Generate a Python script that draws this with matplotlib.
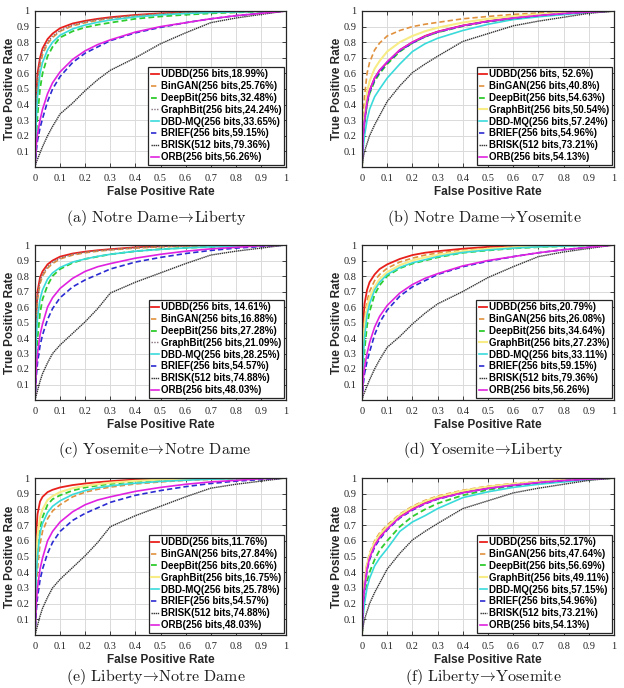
import matplotlib
matplotlib.use("Agg")
import matplotlib.pyplot as plt

plt.rcParams['mathtext.fontset'] = 'cm'

# ---------------- data ----------------
FPR = [0, .005, .01, .02, .03, .05, .07, .1, .15, .2, .25, .3, .4, .5, .6, .7, .8, .9, 1]
METHODS = ['UDBD', 'BinGAN', 'DeepBit', 'GraphBit', 'DBD-MQ', 'BRIEF', 'BRISK', 'ORB']

# hand-crafted descriptors (depend on test set only)
BRIEF_LIB = [0, .10, .17, .25, .31, .42, .50, .58, .67, .73, .77, .81, .86, .895, .925, .95, .97, .985, 1]
BRISK_LIB = [0, .03, .05, .09, .13, .20, .26, .34, .41, .49, .56, .62, .70, .79, .86, .925, .955, .978, 1]
ORB_LIB = [0, .14, .21, .30, .37, .47, .54, .61, .69, .745, .785, .815, .865, .90, .925, .95, .97, .985, 1]

BRIEF_ND = [0, .15, .24, .35, .42, .52, .59, .66, .73, .775, .81, .845, .89, .92, .945, .965, .98, .99, 1]
BRISK_ND = [0, .03, .06, .12, .17, .24, .30, .355, .43, .505, .59, .69, .76, .82, .88, .935, .96, .98, 1]
ORB_ND = [0, .20, .30, .42, .49, .60, .66, .72, .785, .83, .86, .88, .915, .94, .96, .975, .985, .995, 1]

BRIEF_YOS = [0, .20, .29, .41, .48, .56, .61, .67, .745, .795, .835, .865, .905, .933, .953, .97, .983, .993, 1]
BRISK_YOS = [0, .06, .10, .15, .20, .27, .33, .42, .52, .605, .66, .71, .805, .855, .905, .935, .96, .985, 1]
ORB_YOS = [0, .21, .30, .42, .49, .57, .62, .675, .75, .80, .838, .867, .906, .934, .955, .971, .984, .993, 1]

# (a) Notre Dame -> Liberty
A_UDBD = [0, .45, .60, .70, .76, .82, .855, .89, .92, .937, .95, .96, .975, .985, .99, .994, .997, .999, 1]
A_BINGAN = [0, .38, .52, .65, .72, .79, .83, .87, .905, .925, .94, .952, .968, .98, .987, .992, .996, .999, 1]
A_DEEPBIT = [0, .20, .33, .50, .60, .71, .77, .83, .87, .895, .912, .925, .95, .965, .976, .985, .991, .996, 1]
A_GRAPHBIT = [0, .42, .56, .68, .74, .80, .84, .875, .91, .93, .945, .955, .972, .982, .988, .993, .996, .999, 1]
A_DBDMQ = [0, .30, .45, .60, .67, .75, .80, .845, .885, .91, .928, .942, .962, .975, .984, .99, .994, .998, 1]

# (b) Notre Dame -> Yosemite
B_UDBD = [0, .20, .30, .42, .49, .57, .62, .67, .75, .80, .84, .868, .907, .935, .955, .972, .984, .993, 1]
B_BINGAN = [0, .32, .45, .60, .67, .75, .795, .84, .875, .90, .915, .927, .95, .965, .978, .987, .993, .997, 1]
B_DEEPBIT = [0, .18, .28, .40, .47, .55, .60, .66, .74, .795, .835, .863, .903, .932, .953, .97, .983, .993, 1]
B_GRAPHBIT = [0, .25, .35, .48, .55, .63, .68, .74, .80, .84, .87, .893, .926, .95, .966, .979, .989, .995, 1]
B_DBDMQ = [0, .12, .20, .30, .37, .45, .50, .57, .66, .74, .79, .825, .875, .915, .945, .963, .977, .99, 1]

# (c) Yosemite -> Notre Dame
C_UDBD = [0, .55, .70, .79, .83, .875, .90, .925, .945, .957, .966, .973, .985, .992, .996, .998, .999, 1, 1]
C_BINGAN = [0, .50, .65, .75, .80, .85, .88, .91, .935, .95, .96, .968, .98, .988, .993, .996, .998, .999, 1]
C_DEEPBIT = [0, .25, .40, .56, .65, .74, .80, .845, .885, .91, .925, .94, .96, .973, .982, .988, .993, .997, 1]
C_GRAPHBIT = [0, .52, .67, .77, .81, .86, .89, .915, .94, .953, .963, .97, .982, .99, .994, .997, .999, 1, 1]
C_DBDMQ = [0, .40, .53, .65, .71, .78, .82, .855, .89, .91, .927, .94, .96, .972, .981, .988, .993, .997, 1]

# (d) Yosemite -> Liberty
D_UDBD = [0, .50, .62, .71, .76, .81, .845, .875, .91, .935, .95, .96, .976, .988, .993, .996, .998, .999, 1]
D_BINGAN = [0, .40, .52, .64, .70, .77, .81, .85, .89, .915, .935, .948, .966, .978, .987, .993, .996, .999, 1]
D_DEEPBIT = [0, .20, .32, .48, .57, .68, .74, .80, .85, .88, .90, .92, .95, .965, .978, .986, .992, .997, 1]
D_GRAPHBIT = [0, .36, .48, .60, .66, .73, .78, .825, .87, .90, .92, .935, .96, .975, .985, .99, .995, .998, 1]
D_DBDMQ = [0, .28, .40, .55, .62, .71, .76, .81, .855, .885, .905, .925, .952, .968, .98, .988, .993, .997, 1]

# (e) Liberty -> Notre Dame
E_UDBD = [0, .65, .77, .85, .88, .91, .925, .94, .955, .965, .973, .98, .99, .995, .998, .999, 1, 1, 1]
E_BINGAN = [0, .30, .42, .58, .66, .74, .79, .83, .88, .91, .928, .942, .962, .975, .985, .991, .995, .998, 1]
E_DEEPBIT = [0, .40, .54, .68, .75, .83, .865, .89, .92, .94, .952, .962, .977, .986, .992, .996, .998, .999, 1]
E_GRAPHBIT = [0, .50, .63, .75, .80, .86, .885, .91, .935, .95, .96, .97, .982, .99, .994, .997, .999, 1, 1]
E_DBDMQ = [0, .38, .50, .65, .71, .78, .82, .855, .895, .92, .938, .95, .967, .978, .986, .992, .996, .998, 1]

# (f) Liberty -> Yosemite
F_UDBD = [0, .22, .32, .44, .50, .58, .63, .68, .755, .805, .845, .873, .912, .94, .958, .974, .985, .994, 1]
F_BINGAN = [0, .24, .34, .46, .52, .60, .65, .70, .77, .82, .857, .885, .922, .948, .965, .978, .988, .995, 1]
F_DEEPBIT = [0, .15, .24, .34, .40, .48, .54, .60, .69, .755, .80, .838, .89, .925, .95, .967, .98, .992, 1]
F_GRAPHBIT = [0, .23, .33, .45, .51, .59, .64, .69, .765, .815, .852, .88, .918, .945, .962, .976, .987, .995, 1]
F_DBDMQ = [0, .13, .20, .30, .36, .44, .49, .55, .66, .72, .76, .805, .875, .912, .94, .96, .975, .99, 1]

LABELS_A = ['UDBD(256 bits,18.99%)', 'BinGAN(256 bits,25.76%)', 'DeepBit(256 bits,32.48%)',
            'GraphBit(256 bits,24.24%)', 'DBD-MQ(256 bits,33.65%)', 'BRIEF(256 bits,59.15%)',
            'BRISK(512 bits,79.36%)', 'ORB(256 bits,56.26%)']
LABELS_B = ['UDBD(256 bits, 52.6%)', 'BinGAN(256 bits,40.8%)', 'DeepBit(256 bits,54.63%)',
            'GraphBit(256 bits,50.54%)', 'DBD-MQ(256 bits,57.24%)', 'BRIEF(256 bits,54.96%)',
            'BRISK(512 bits,73.21%)', 'ORB(256 bits,54.13%)']
LABELS_C = ['UDBD(256 bits, 14.61%)', 'BinGAN(256 bits,16.88%)', 'DeepBit(256 bits,27.28%)',
            'GraphBit(256 bits,21.09%)', 'DBD-MQ(256 bits,28.25%)', 'BRIEF(256 bits,54.57%)',
            'BRISK(512 bits,74.88%)', 'ORB(256 bits,48.03%)']
LABELS_D = ['UDBD(256 bits,20.79%)', 'BinGAN(256 bits,26.08%)', 'DeepBit(256 bits,34.64%)',
            'GraphBit(256 bits,27.23%)', 'DBD-MQ(256 bits,33.11%)', 'BRIEF(256 bits,59.15%)',
            'BRISK(512 bits,79.36%)', 'ORB(256 bits,56.26%)']
LABELS_E = ['UDBD(256 bits,11.76%)', 'BinGAN(256 bits,27.84%)', 'DeepBit(256 bits,20.66%)',
            'GraphBit(256 bits,16.75%)', 'DBD-MQ(256 bits,25.78%)', 'BRIEF(256 bits,54.57%)',
            'BRISK(512 bits,74.88%)', 'ORB(256 bits,48.03%)']
LABELS_F = ['UDBD(256 bits,52.17%)', 'BinGAN(256 bits,47.64%)', 'DeepBit(256 bits,56.69%)',
            'GraphBit(256 bits,49.11%)', 'DBD-MQ(256 bits,57.15%)', 'BRIEF(256 bits,54.96%)',
            'BRISK(512 bits,73.21%)', 'ORB(256 bits,54.13%)']

ARROW = r'$\!\rightarrow\!$'
CAPTIONS = ['(a) Notre Dame' + ARROW + 'Liberty', '(b) Notre Dame' + ARROW + 'Yosemite',
            '(c) Yosemite' + ARROW + 'Notre Dame', '(d) Yosemite' + ARROW + 'Liberty',
            '(e) Liberty' + ARROW + 'Notre Dame', '(f) Liberty' + ARROW + 'Yosemite']

XTICKS = [0, .1, .2, .3, .4, .5, .6, .7, .8, .9, 1]
XTICKLABELS = ['0', '0.1', '0.2', '0.3', '0.4', '0.5', '0.6', '0.7', '0.8', '0.9', '1']
YTICKS = [.1, .2, .3, .4, .5, .6, .7, .8, .9, 1]
YTICKLABELS = ['0.1', '0.2', '0.3', '0.4', '0.5', '0.6', '0.7', '0.8', '0.9', '1']

# ---------------- styles ----------------
DASH = (0, (3.2, 1.8))
STYLE = {
    'UDBD': dict(color='#E8201C', ls='-', lw=1.3),
    'BinGAN': dict(color='#E0913E', ls=DASH, lw=1.2),
    'DeepBit': dict(color='#2ECC2E', ls=DASH, lw=1.3),
    'GraphBit_dot': dict(color='#86707E', ls=(0, (1, 1)), lw=1.0),
    'GraphBit_yel': dict(color='#F7EC86', ls='-', lw=1.5),
    'DBD-MQ': dict(color='#3ADADA', ls='-', lw=1.2),
    'BRIEF': dict(color='#2B2BD2', ls=DASH, lw=1.2),
    'BRISK': dict(color='#333333', ls=(0, (1, 0.5)), lw=1.0),
    'ORB': dict(color='#E022E0', ls='-', lw=1.2),
}

W, H = 624, 688
fig = plt.figure(figsize=(W / 100, H / 100), dpi=100)

panels = [
    dict(box=(35, 11, 286, 167), data=[A_UDBD, A_BINGAN, A_DEEPBIT, A_GRAPHBIT, A_DBDMQ, BRIEF_LIB, BRISK_LIB, ORB_LIB],
         labels=LABELS_A, gb='GraphBit_dot', capx=156, capy=218),
    dict(box=(362, 11, 614, 167), data=[B_UDBD, B_BINGAN, B_DEEPBIT, B_GRAPHBIT, B_DBDMQ, BRIEF_YOS, BRISK_YOS, ORB_YOS],
         labels=LABELS_B, gb='GraphBit_yel', capx=484, capy=218),
    dict(box=(35, 245, 286, 400), data=[C_UDBD, C_BINGAN, C_DEEPBIT, C_GRAPHBIT, C_DBDMQ, BRIEF_ND, BRISK_ND, ORB_ND],
         labels=LABELS_C, gb='GraphBit_dot', capx=155, capy=450),
    dict(box=(362, 245, 614, 400), data=[D_UDBD, D_BINGAN, D_DEEPBIT, D_GRAPHBIT, D_DBDMQ, BRIEF_LIB, BRISK_LIB, ORB_LIB],
         labels=LABELS_D, gb='GraphBit_yel', capx=483, capy=450),
    dict(box=(35, 478, 286, 635), data=[E_UDBD, E_BINGAN, E_DEEPBIT, E_GRAPHBIT, E_DBDMQ, BRIEF_ND, BRISK_ND, ORB_ND],
         labels=LABELS_E, gb='GraphBit_yel', capx=156, capy=677),
    dict(box=(362, 478, 614, 635), data=[F_UDBD, F_BINGAN, F_DEEPBIT, F_GRAPHBIT, F_DBDMQ, BRIEF_YOS, BRISK_YOS, ORB_YOS],
         labels=LABELS_F, gb='GraphBit_yel', capx=483, capy=677),
]

SANS = 'Liberation Sans'
SERIF = 'Liberation Serif'

for i, p in enumerate(panels):
    l, t, r, b = p['box']
    ax = fig.add_axes([l / W, 1 - b / H, (r - l) / W, (b - t) / H])
    for name, tpr, lab in zip(METHODS, p['data'], p['labels']):
        st = STYLE[p['gb']] if name == 'GraphBit' else STYLE[name]
        ax.plot(FPR, tpr, color=st['color'], linestyle=st['ls'], linewidth=st['lw'], label=lab)
    ax.set_xlim(0, 1)
    ax.set_ylim(0, 1)
    ax.set_xticks(XTICKS)
    ax.set_xticklabels(XTICKLABELS, fontfamily=SERIF, fontsize=7.5)
    ax.set_yticks(YTICKS)
    ax.set_yticklabels(YTICKLABELS, fontfamily=SERIF, fontsize=7.5)
    ax.tick_params(direction='in', length=3, width=0.6, top=True, right=True, color='#262626',
                   labelcolor='#262626')
    ax.tick_params(axis='x', pad=5)
    ax.tick_params(axis='y', pad=4)
    ax.grid(True, color='#DADADA', linewidth=0.7)
    ax.set_axisbelow(True)
    for s in ax.spines.values():
        s.set_linewidth(0.9)
        s.set_color('#262626')
    ax.set_xlabel('False Positive Rate', fontfamily=SANS, fontweight='bold', fontsize=8.5,
                  labelpad=2, color='#262626')
    ax.set_ylabel('True Positive Rate', fontfamily=SANS, fontweight='bold', fontsize=8.5,
                  labelpad=0, color='#262626')
    leg = ax.legend(loc='lower right', prop=dict(family=SANS, weight='bold', size=7),
                    handlelength=0.8, handletextpad=0.2, labelspacing=0.19, borderpad=0.25,
                    borderaxespad=0.25, fancybox=False, framealpha=1, edgecolor='#262626')
    leg.get_frame().set_linewidth(0.9)
    fig.text(p['capx'] / W, 1 - p['capy'] / H, CAPTIONS[i], fontfamily='cmr10', fontsize=11.5,
             ha='center', va='center', color='#1a1a1a')

fig.savefig('out.png', dpi=100)
